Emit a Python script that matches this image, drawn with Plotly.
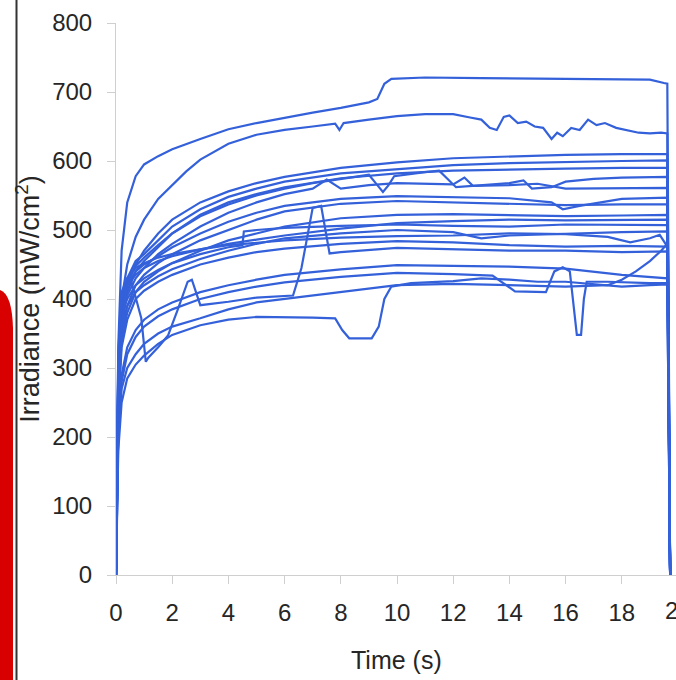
import plotly.graph_objects as go

# ---------------- data ----------------
X_TICKS = [0, 2, 4, 6, 8, 10, 12, 14, 16, 18]
Y_TICKS = [0, 100, 200, 300, 400, 500, 600, 700, 800]

GRID_T = [0, 0.08, 0.2, 0.4, 0.7, 1, 1.5, 2, 3, 4, 5, 6, 8, 10, 12, 14, 16, 18, 19.62, 19.72]

C_v = [0, 280, 380, 420, 450, 470, 495, 515, 540, 556, 568, 577, 590, 598, 604, 607, 609, 610, 610, 0]
D_v = [0, 300, 400, 430, 455, 465, 485, 505, 530, 548, 560, 570, 582, 588, 594, 597, 599, 600, 601, 0]
S_v = [0, 290, 395, 425, 448, 460, 478, 495, 522, 540, 552, 562, 575, 582, 586, 588, 589, 590, 590, 0]
H_v = [0, 260, 350, 390, 420, 435, 452, 465, 485, 500, 515, 527, 538, 542, 540, 538, 536, 537, 537, 0]
I_v = [0, 250, 340, 380, 410, 425, 440, 452, 470, 485, 495, 505, 517, 522, 523, 522, 520, 521, 522, 0]
T_v = [0, 300, 400, 420, 435, 445, 455, 462, 472, 480, 486, 492, 502, 510, 513, 515, 514, 515, 515, 0]
M_v = [0, 240, 330, 370, 400, 412, 425, 435, 450, 460, 468, 473, 480, 484, 482, 478, 476, 477, 476, 0]
O2_v = [0, 210, 290, 330, 355, 370, 385, 395, 410, 420, 428, 435, 443, 449, 448, 447, 444, 435, 430, 0]

A_t = [0, 0.08, 0.2, 0.4, 0.7, 1, 1.5, 2, 3, 4, 5, 6, 7, 8, 9, 9.3, 9.55, 9.8, 11, 13, 15, 17, 19, 19.5, 19.62, 19.72]
A_v = [0, 330, 470, 540, 578, 595, 607, 617, 632, 646, 655, 663, 670, 677, 685, 690, 712, 719, 721, 720, 719, 719, 718, 713, 712, 0]

B_t = [0, 0.08, 0.2, 0.4, 0.7, 1, 1.5, 2, 2.5, 3, 4, 5, 6, 7, 7.8, 7.95, 8.1, 9, 10, 11, 12, 12.6, 13,
       13.3, 13.55, 13.8, 14, 14.3, 14.6, 14.9, 15.2, 15.5, 15.7, 15.9, 16.2, 16.5, 16.8, 17.1, 17.4,
       17.8, 18.2, 18.6, 19, 19.4, 19.62, 19.72]
B_v = [0, 250, 400, 450, 490, 515, 545, 565, 585, 602, 625, 638, 645, 650, 654, 645, 655, 660, 665, 668, 668, 663, 660,
       648, 645, 664, 666, 655, 657, 650, 648, 632, 641, 636, 648, 645, 660, 652, 655,
       648, 645, 641, 640, 641, 640, 0]

E_t = [0, 0.08, 0.2, 0.4, 0.7, 1, 1.5, 2, 3, 4, 5, 6, 7, 8, 9, 9.3, 9.5, 9.7, 9.9, 11, 11.5, 12.1, 13, 14, 14.5,
       14.8, 15.5, 16, 17, 18, 19.62, 19.72]
E_v = [0, 270, 360, 410, 440, 455, 475, 495, 520, 537, 550, 560, 568, 574, 580, 565, 555, 565, 578, 584, 586, 562,
       565, 568, 572, 560, 562, 570, 574, 576, 577, 0]

F_t = [0, 0.08, 0.2, 0.4, 0.7, 1, 1.5, 2, 3, 4, 5, 6, 7, 7.5, 8, 9, 10, 12, 12.4, 12.7, 14, 15, 16, 18, 19.62, 19.72]
F_v = [0, 270, 370, 405, 430, 445, 465, 480, 505, 525, 540, 552, 560, 573, 560, 565, 568, 566, 576, 564, 565, 567,
       560, 560, 561, 0]

G_t = [0, 0.08, 0.2, 0.4, 0.7, 1, 1.5, 2, 3, 4, 5, 6, 7, 8, 10, 12, 14, 15.5, 15.9, 16.5, 18, 19.62, 19.72]
G_v = [0, 290, 390, 420, 440, 450, 462, 475, 495, 512, 525, 535, 540, 545, 549, 548, 546, 540, 530, 535, 545, 547, 0]

J_t = [0, 0.08, 0.2, 0.4, 0.7, 1, 1.5, 2, 3, 4, 4.5, 4.55, 5, 6, 8, 10, 12, 14, 16, 18, 19.62, 19.72]
J_v = [0, 280, 380, 400, 420, 430, 442, 452, 465, 475, 478, 498, 500, 503, 506, 508, 506, 505, 508, 507, 507, 0]

K_t = [0, 0.08, 0.2, 0.4, 0.7, 1, 1.5, 2, 3, 4, 5, 6, 8, 10, 12, 13, 14, 16, 18, 19.62, 19.72]
K_v = [0, 260, 360, 390, 410, 420, 433, 443, 458, 470, 480, 488, 495, 500, 497, 488, 492, 495, 497, 498, 0]

L_t = [0, 0.08, 0.2, 0.4, 0.7, 1, 1.5, 2, 3, 4, 6, 8, 10, 12, 14, 16, 17.5, 18.3, 19, 19.35, 19.62, 19.72]
L_v = [0, 320, 410, 430, 445, 452, 460, 465, 472, 478, 485, 489, 491, 492, 495, 494, 490, 482, 488, 493, 476, 0]

N_t = [0, 0.08, 0.2, 0.35, 0.55, 0.9, 1.06, 1.15, 1.5, 1.85, 2.2, 2.55, 2.7, 3.0, 4, 5, 6.3, 6.6, 7.0, 7.3,
       7.6, 8, 10, 12, 14, 16, 18, 19.62, 19.72]
N_v = [0, 250, 360, 410, 425, 372, 309, 315, 330, 347, 385, 425, 428, 391, 396, 402, 405, 445, 532, 535,
       466, 468, 474, 472, 470, 470, 468, 469, 0]

O_t = [0, 0.08, 0.2, 0.4, 0.7, 1, 1.5, 2, 3, 4, 5, 6, 8, 10, 12, 13.4, 14.2, 15.3, 15.6, 15.9, 16.15, 16.3,
       16.4, 16.55, 16.65, 16.75, 17.5, 19, 19.62, 19.72]
O_v = [0, 210, 280, 320, 345, 360, 375, 385, 400, 410, 418, 424, 432, 438, 436, 434, 411, 410, 440, 446, 440, 380,
       348, 348, 400, 425, 425, 423, 423, 0]

P_t = [0, 0.08, 0.2, 0.4, 0.7, 1, 1.5, 2, 3, 4, 5, 6, 7, 8, 9, 10, 12, 14, 16, 17.5, 18, 18.5, 19, 19.4,
       19.62, 19.72]
P_v = [0, 200, 270, 300, 320, 335, 350, 360, 372, 385, 395, 400, 405, 410, 415, 420, 422, 420, 418, 420, 428, 440,
       455, 470, 480, 0]

Q_t = [0, 0.08, 0.2, 0.4, 0.7, 1, 1.5, 2, 3, 4, 5, 6, 7, 7.8, 8.05, 8.3, 9.1, 9.35, 9.55, 9.8, 10.5, 12, 13, 14,
       15, 16, 17, 18, 19, 19.62, 19.72]
Q_v = [0, 180, 250, 285, 305, 318, 335, 348, 362, 370, 374, 374, 373, 372, 355, 343, 343, 360, 400, 418, 423, 426,
       430, 428, 425, 425, 422, 418, 420, 421, 0]

SERIES = [
    (A_t, A_v), (B_t, B_v), (GRID_T, C_v), (GRID_T, D_v), (GRID_T, S_v), (E_t, E_v), (F_t, F_v),
    (G_t, G_v), (GRID_T, H_v), (GRID_T, I_v), (J_t, J_v), (GRID_T, T_v), (K_t, K_v), (L_t, L_v),
    (GRID_T, M_v), (N_t, N_v), (GRID_T, O2_v), (O_t, O_v), (P_t, P_v), (Q_t, Q_v),
]

# ---------------- layout / style ----------------
W, H = 676, 680
ML, MT, MB = 116, 23, 105
PLOT_W = W - ML
PLOT_H = H - MT - MB
PX_PER_S = 28.1
X_MAX = PLOT_W / PX_PER_S

LINE_COLOR = "#3461da"
FONT = "Liberation Sans, Arial, sans-serif"
FS = 24
TITLE_FS = 27
TEXT_COLOR = "#262626"
AXIS_COLOR = "#cfcfcf"


def px_x(p):
    return (p - ML) / PLOT_W


def px_y(p):
    return (H - MB - p) / PLOT_H


fig = go.Figure()
for t, v in SERIES:
    fig.add_trace(go.Scatter(x=t, y=v, mode="lines",
                             line=dict(color=LINE_COLOR, width=2.2),
                             showlegend=False, hoverinfo="skip"))

fig.update_layout(
    width=W, height=H,
    margin=dict(l=ML, r=0, t=MT, b=MB, pad=0),
    paper_bgcolor="white", plot_bgcolor="white",
    hovermode=False,
    font=dict(family=FONT, size=FS, color=TEXT_COLOR),
    xaxis=dict(range=[0, X_MAX], tickvals=X_TICKS, ticktext=[str(v) for v in X_TICKS],
               showgrid=False, zeroline=False, showline=True, linecolor=AXIS_COLOR, linewidth=1,
               ticks="outside", ticklen=8, tickcolor=AXIS_COLOR, tickwidth=1,
               tickfont=dict(size=FS, color=TEXT_COLOR), ticklabelstandoff=8),
    yaxis=dict(range=[0, 800], tickvals=Y_TICKS,
               showgrid=False, zeroline=False, showline=True, linecolor=AXIS_COLOR, linewidth=1,
               ticks="outside", ticklen=8, tickcolor=AXIS_COLOR, tickwidth=1,
               tickfont=dict(size=FS, color=TEXT_COLOR), ticklabelstandoff=10,
               title=dict(text="Irradiance (mW/cm<sup>2</sup>)", standoff=4,
                          font=dict(size=TITLE_FS, color=TEXT_COLOR))),
    annotations=[
        dict(text="20", xref="paper", yref="paper", x=px_x(678), y=px_y(610),
             xanchor="center", yanchor="middle", showarrow=False,
             font=dict(size=FS, color=TEXT_COLOR)),
        dict(text="Time (s)", xref="paper", yref="paper", x=px_x(396), y=px_y(660),
             xanchor="center", yanchor="middle", showarrow=False,
             font=dict(size=25, color=TEXT_COLOR)),
    ],
    shapes=[
        dict(type="path", xref="paper", yref="paper", layer="above",
             path=(f"M {px_x(0)},{px_y(682)} L {px_x(0)},{px_y(290)} "
                   f"Q {px_x(12)},{px_y(294)} {px_x(13)},{px_y(328)} L {px_x(13)},{px_y(682)} Z"),
             fillcolor="#d80000", line=dict(width=0)),
        dict(type="line", xref="paper", yref="paper", layer="above",
             x0=px_x(16.5), x1=px_x(16.5), y0=px_y(-2), y1=px_y(682),
             line=dict(color="#333333", width=2)),
    ],
)

fig.write_html("out.html",
               config={"displayModeBar": False, "staticPlot": True},
               post_script="document.body.style.margin='0px';document.body.style.overflow='hidden';")
